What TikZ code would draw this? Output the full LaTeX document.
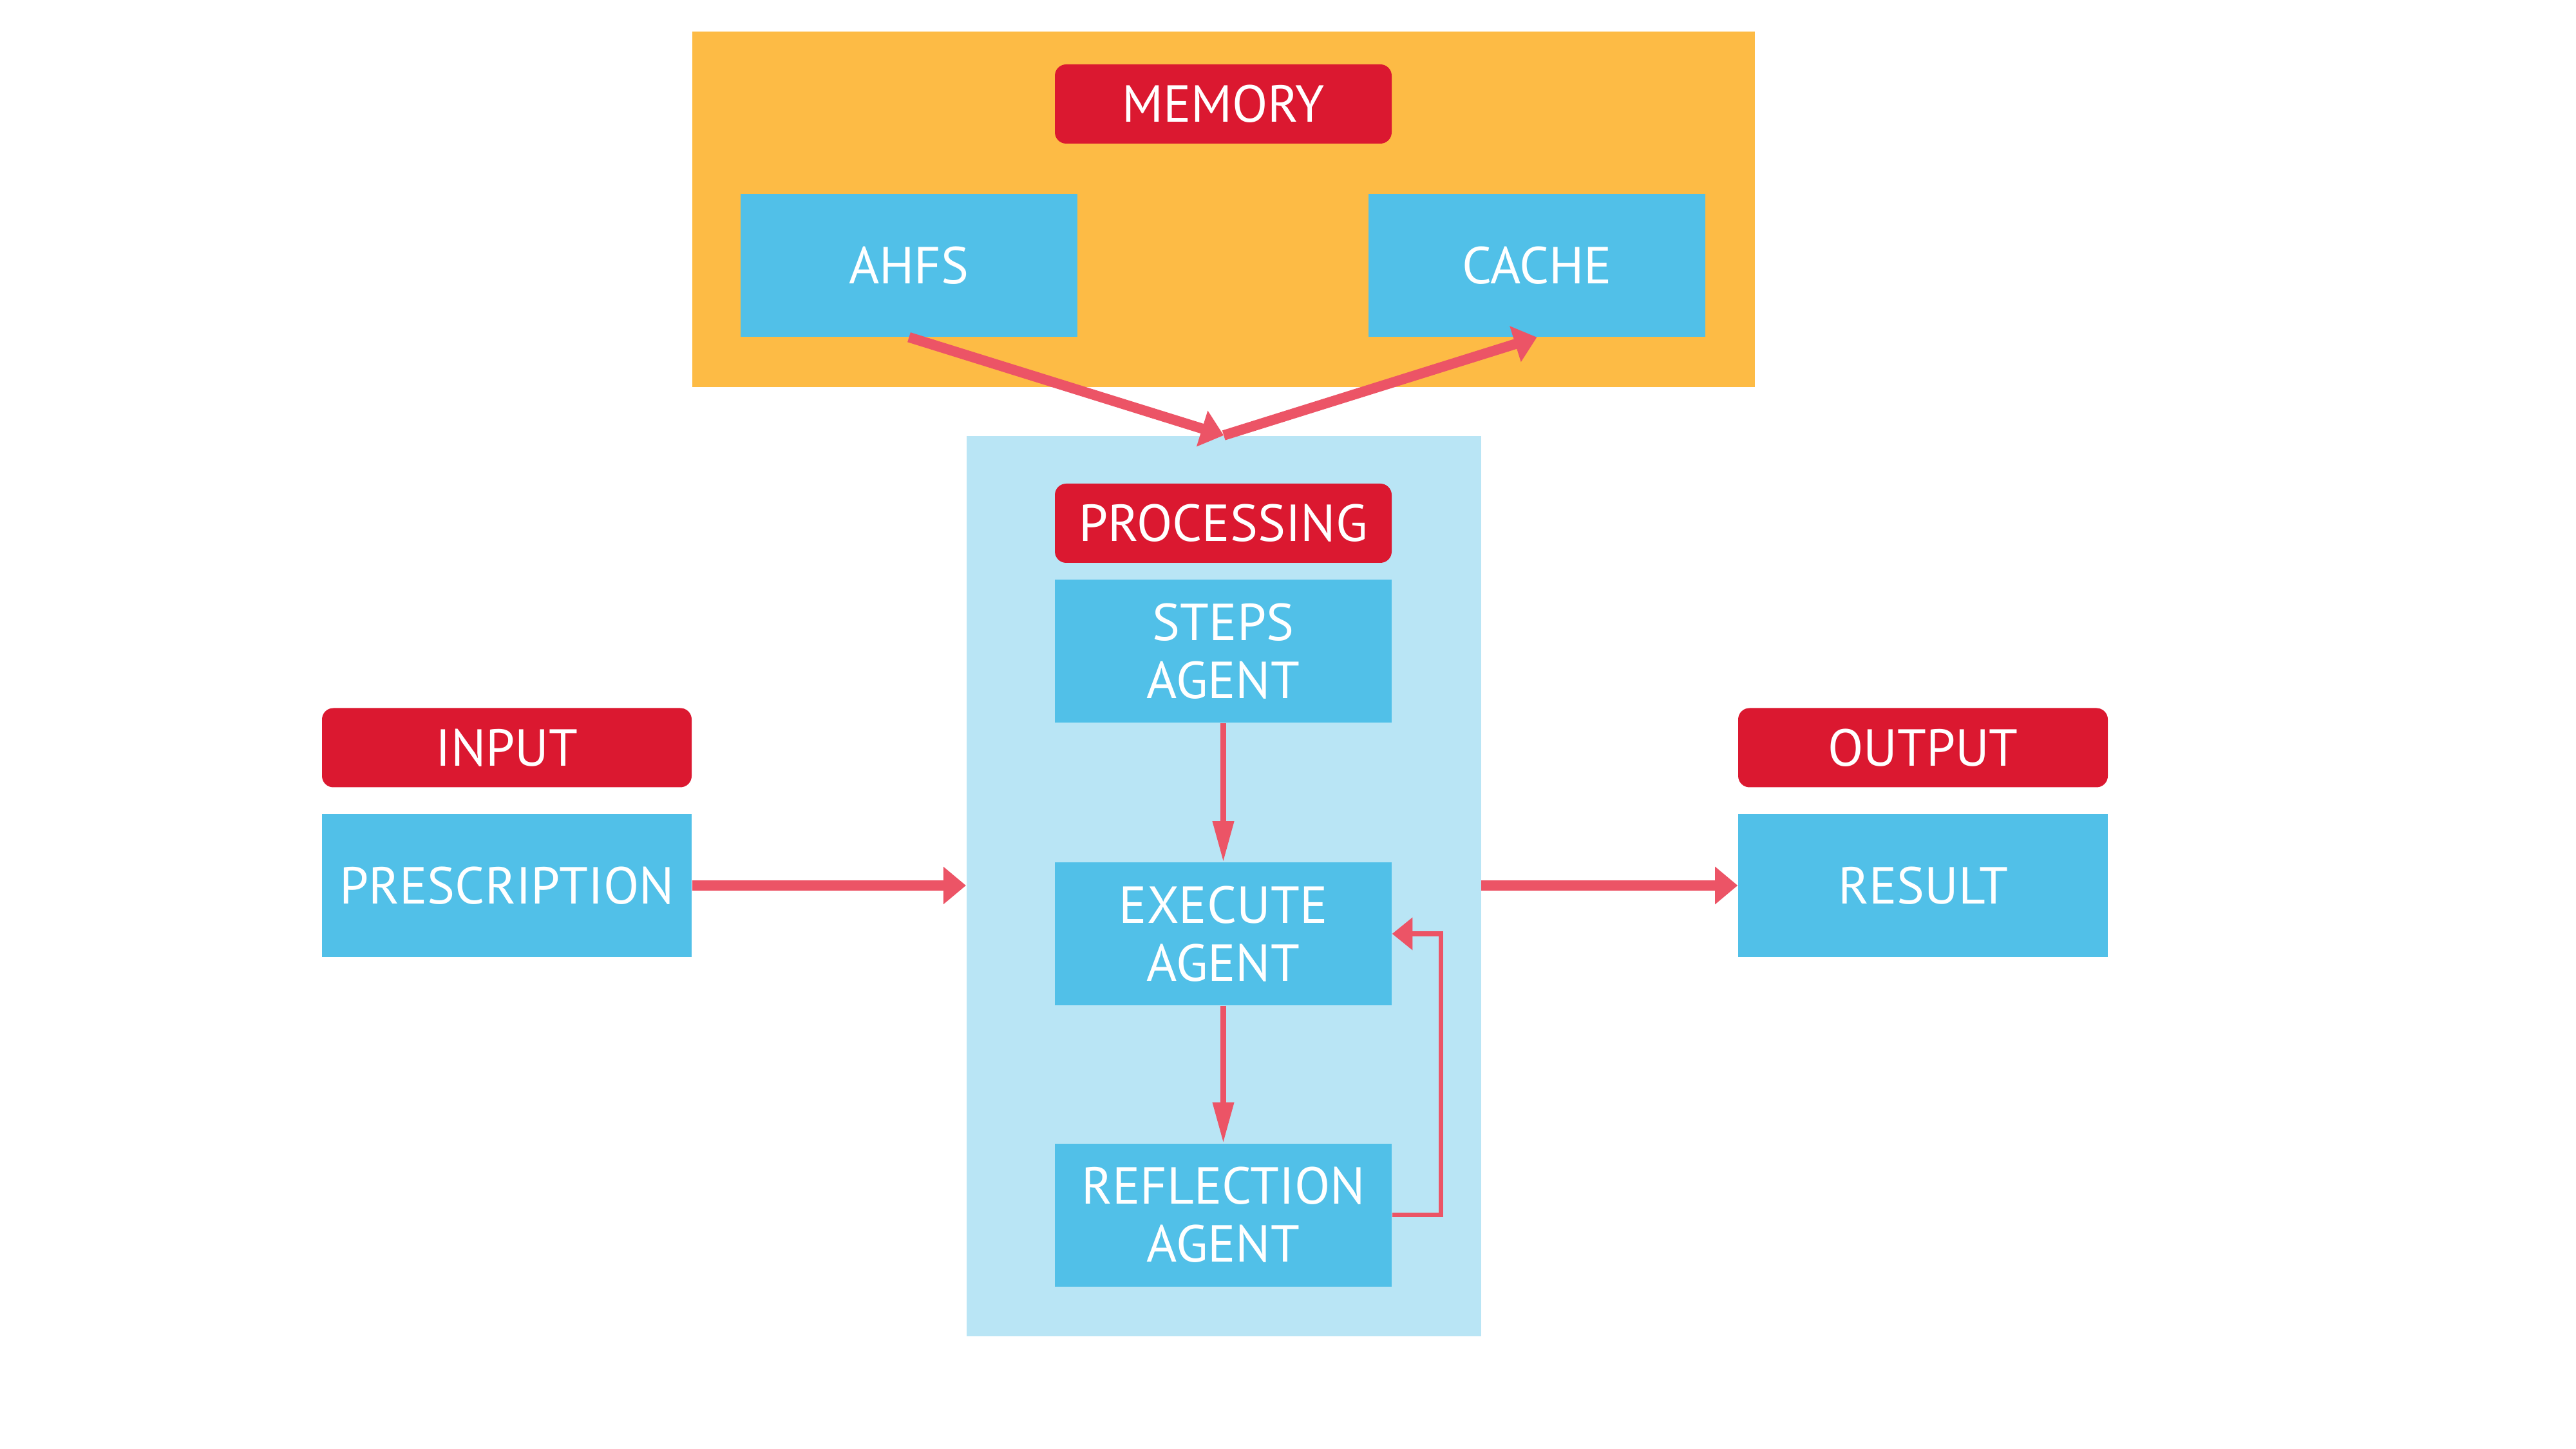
\documentclass[tikz,border=0pt]{standalone}
\usepackage{fontspec}
\setmainfont{PT Sans}
\usepackage{xcolor}
\usetikzlibrary{arrows.meta,positioning,calc}
\definecolor{memfill}{RGB}{253,187,69}
\definecolor{procfill}{RGB}{185,229,245}
\definecolor{boxfill}{RGB}{81,192,232}
\definecolor{tagred}{RGB}{219,24,48}
\definecolor{flow}{RGB}{236,84,102}

\tikzset{
  panel/.style={fill=#1,inner sep=0pt,anchor=north west},
  tag/.style={fill=tagred,text=white,rounded corners=5pt,inner sep=0pt,
              minimum width=5.23cm,minimum height=1.23cm,
              font=\fontsize{23}{26}\selectfont},
  unit/.style={fill=boxfill,text=white,inner sep=0pt,align=center,
               minimum width=5.23cm,minimum height=2.22cm,
               font=\fontsize{23}{25.5}\selectfont},
  wide/.style={minimum width=5.74cm},
  thick link/.style={draw=flow,line width=4.5pt,
                     -{Triangle[length=10pt,width=16pt]}},
  thin link/.style={draw=flow,line width=2.4pt,
                    -{Triangle[length=18pt,width=9pt]}}
}

\begin{document}
\begin{tikzpicture}
\useasboundingbox (0,0) rectangle (40,-22.5);

% containers
\node[panel=memfill,minimum width=16.5cm,minimum height=5.52cm] (memory) at (10.74,-0.48) {};
\node[panel=procfill,minimum width=7.99cm,minimum height=13.98cm] (proc) at (15.0,-6.76) {};

% memory part
\node[tag] (memtag) at (18.995,-1.615) {MEMORY};
\node[unit] (ahfs) at (14.115,-4.12) {AHFS};
\node[unit] (cache) at (23.865,-4.12) {CACHE};

% processing part
\node[tag] (proctag) at (18.995,-8.125) {PROCESSING};
\node[unit] (steps) at (18.995,-10.11) {STEPS\\AGENT};
\node[unit] (execute) at (18.995,-14.50) {EXECUTE\\AGENT};
\node[unit] (reflect) at (18.995,-18.865) {REFLECTION\\AGENT};

% input / output
\node[tag,wide] (intag) at (7.87,-11.61) {INPUT};
\node[unit,wide] (prescr) at (7.87,-13.75) {PRESCRIPTION};
\node[tag,wide] (outtag) at (29.86,-11.61) {OUTPUT};
\node[unit,wide] (result) at (29.86,-13.75) {RESULT};

% links
\draw[thick link] (ahfs.south) -- (proc.north);
\draw[thick link] (proc.north) -- (cache.south);
\draw[thick link] (prescr.east) -- (prescr.east -| proc.west);
\draw[thick link] (result.west -| proc.east) -- (result.west);
\draw[thin link] (steps) -- (execute);
\draw[thin link] (execute) -- (reflect);
\draw[draw=flow,line width=2pt,-{Triangle[length=9pt,width=14pt]}]
  (reflect.east) -- ++(0.76,0) |- (execute.east);
\end{tikzpicture}
\end{document}
